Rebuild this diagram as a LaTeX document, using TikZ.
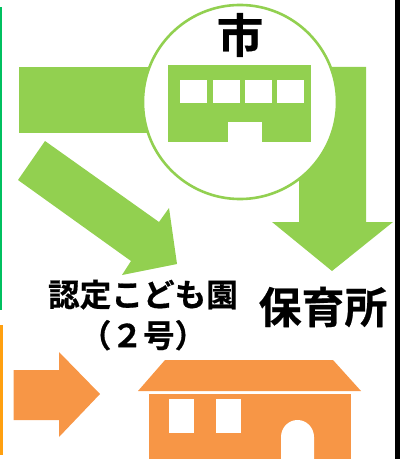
\documentclass[tikz,border=0pt]{standalone}
\usepackage{fontspec}
\setmainfont{Noto Sans CJK JP}[BoldFont={Noto Sans CJK JP Bold},BoldFeatures={FakeBold=0.6}]
\usepackage{xcolor}
\definecolor{cityGreen}{HTML}{92D050}
\definecolor{nurseryOrange}{HTML}{F79646}
\definecolor{sideGreen}{HTML}{00C060}
\definecolor{sideOrange}{HTML}{FFA010}
\tikzset{greenshape/.style={fill=cityGreen,draw=none}}
\tikzset{orangeshape/.style={fill=nurseryOrange,draw=none}}
\tikzset{hole/.style={fill=white,draw=none}}
\tikzset{label/.style={font=\bfseries,text=black,inner sep=0pt,align=center}}
\begin{document}
\begin{tikzpicture}[x=0.025cm,y=-0.025cm]
\useasboundingbox (0,0) rectangle (400,459);
% side rules
\fill[sideGreen] (0,7) rectangle (2,310);
\fill[sideOrange] (0,325) rectangle (3,455);
\fill[black] (395,0) rectangle (400,459);
%
% green arrows
\fill[greenshape] (19,67) -- (240,67) -- (240,133) -- (19,133) -- cycle;
\fill[greenshape] (240,67) -- (366,67) -- (366,222) -- (393,222) -- (332,271) -- (272,222) -- (299,222) -- (299,102) -- cycle;
\fill[greenshape] (45,141) -- (159,222) -- (169,208) -- (177,264) -- (122,275) -- (131,261) -- (18,180) -- cycle;
%
% city hall
\node (cityring) [circle,draw=cityGreen,fill=white,line width=0.065cm,minimum size=4.85cm,inner sep=0pt] at (240,102) {};
\node (citytext) [label,font=\bfseries\fontsize{33}{35}\selectfont] at (240,35) {市};
\fill[greenshape] (168,65) rectangle (311,142);
\foreach \wx in {180,213,245,277}
  \fill[hole] (\wx,80) rectangle ++(27,23);
\fill[hole] (228,122) rectangle (262,142);
%
% labels
\node (kodomoen) [label,font=\bfseries\fontsize{22.5}{29}\selectfont] at (143,315) {認定こども園\\（２号）};
\node (hoikusho) [label,font=\bfseries\fontsize{30.5}{32}\selectfont] at (323,307) {保育所};
%
% orange arrow and house
\fill[orangeshape] (13.5,370) -- (59,370) -- (59,352) -- (100,394) -- (59,437) -- (59,420) -- (13.5,420) -- cycle;
\fill[orangeshape] (165,360) -- (333,360) -- (361,391) -- (138,391) -- cycle;
\fill[orangeshape] (149,394) rectangle (351,459);
\foreach \wx in {169,216}
  \fill[hole] (\wx,399) rectangle ++(25,34);
\fill[hole] (281,459) -- (281,437) arc[start angle=180,end angle=360,x radius=16.5,y radius=17] -- (314,459) -- cycle;
\end{tikzpicture}
\end{document}
